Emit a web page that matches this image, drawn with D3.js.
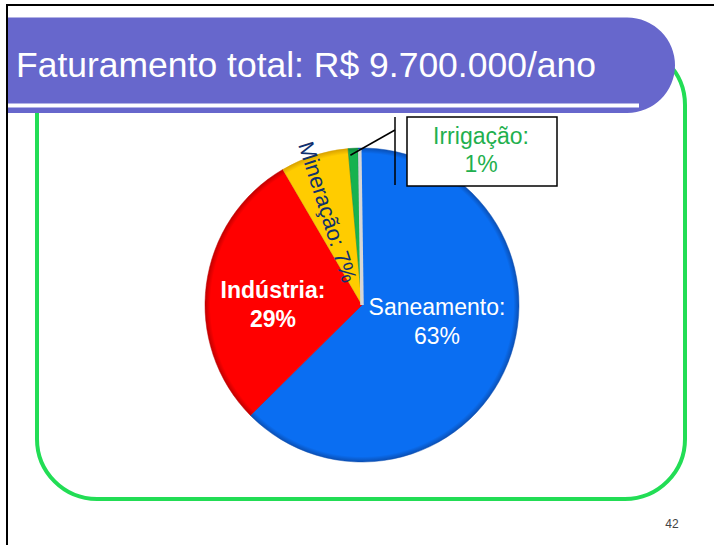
<!DOCTYPE html>
<html>
<head>
<meta charset="utf-8">
<script src="https://cdn.jsdelivr.net/npm/d3@7"></script>
<style>
html,body{margin:0;padding:0;background:#fff;}
svg{display:block;font-family:"Liberation Sans",Arial,sans-serif;}
</style>
</head>
<body>
<svg id="chart" width="714" height="545"></svg>
<script>
// ---- data ----
const title = "Faturamento total: R$ 9.700.000/ano";
const categories = ["Saneamento", "Indústria", "Mineração", "Irrigação"];
const values = [63, 29, 7, 1];
const valueLabels = ["63%", "29%", "7%", "1%"];
const pageNumber = "42";

// ---- styles ----
const fills = ["#0a6ef2", "#ff0000", "#ffcc00", "#17b24f"];
const rims  = ["#0a4fb4", "#c00000", "#d9a200", "#0d8a3a"];

const svg = d3.select("#chart");
const defs = svg.append("defs");

// slide frame
svg.append("line").attr("x1", 6).attr("x2", 714).attr("y1", 5).attr("y2", 5)
  .attr("stroke", "#000").attr("stroke-width", 2);
svg.append("line").attr("x1", 7).attr("x2", 7).attr("y1", 4).attr("y2", 545)
  .attr("stroke", "#000").attr("stroke-width", 2);

// green rounded frame
svg.append("rect").attr("x", 37).attr("y", 45).attr("width", 648).attr("height", 454)
  .attr("rx", 60).attr("ry", 60)
  .attr("fill", "none").attr("stroke", "#22dd55").attr("stroke-width", 4);

// title bar
const tb = {x: 8, y: 17.5, r: 47.75, right: 675};
const tp = d3.path();
tp.moveTo(tb.x, tb.y);
tp.lineTo(tb.right - tb.r, tb.y);
tp.arc(tb.right - tb.r, tb.y + tb.r, tb.r, -Math.PI / 2, Math.PI / 2);
tp.lineTo(tb.x, tb.y + 2 * tb.r);
tp.closePath();
svg.append("path").attr("d", tp.toString()).attr("fill", "#6767cc");
svg.append("rect").attr("x", 8).attr("y", 103.5).attr("width", 631).attr("height", 4).attr("fill", "#fff");
svg.append("text").attr("x", 16).attr("y", 77)
  .attr("font-size", 35).attr("fill", "#fff")
  .attr("textLength", 580).attr("lengthAdjust", "spacingAndGlyphs")
  .text(title);

// pie
const cx = 362, cy = 305, R = 157;
const start = -1.5 * Math.PI / 180;
const pie = d3.pie().sort(null).startAngle(start).endAngle(start + 2 * Math.PI);
const arcs = pie(values);
const arc = d3.arc().innerRadius(0).outerRadius(R);

const g = svg.append("g").attr("transform", `translate(${cx},${cy})`);

fills.forEach((c, i) => {
  const gr = defs.append("radialGradient").attr("id", "grad" + i)
    .attr("gradientUnits", "userSpaceOnUse").attr("cx", 0).attr("cy", 0).attr("r", R);
  gr.append("stop").attr("offset", 0).attr("stop-color", c);
  gr.append("stop").attr("offset", 0.965).attr("stop-color", c);
  gr.append("stop").attr("offset", 1).attr("stop-color", rims[i]);
});

g.selectAll("path.slice").data(arcs).enter().append("path")
  .attr("class", "slice")
  .attr("d", arc)
  .attr("fill", (d, i) => `url(#grad${i})`)
  .attr("stroke", (d, i) => rims[i]).attr("stroke-width", 0.8).attr("stroke-opacity", 0.6);

// light edge at the start of the first slice
const a0 = arcs[0].startAngle + 0.012;
g.append("line")
  .attr("x1", 0).attr("y1", 0)
  .attr("x2", R * Math.sin(a0) * 0.99).attr("y2", -R * Math.cos(a0) * 0.99)
  .attr("stroke", "#d6d6d6").attr("stroke-width", 3.5);

// labels
const lblArc = d3.arc().innerRadius(0).outerRadius(R);
// Saneamento
svg.append("text").attr("x", 437).attr("y", 315).attr("text-anchor", "middle")
  .attr("font-size", 23).attr("fill", "#fff")
  .selectAll("tspan").data([categories[0] + ":", valueLabels[0]]).enter().append("tspan")
  .attr("x", 437).attr("dy", (d, i) => i ? 29 : 0).text(d => d);
// Indústria
svg.append("text").attr("x", 273).attr("y", 298).attr("text-anchor", "middle")
  .attr("font-size", 23).attr("font-weight", "bold").attr("fill", "#fff")
  .selectAll("tspan").data([categories[1] + ":", valueLabels[1]]).enter().append("tspan")
  .attr("x", 273).attr("dy", (d, i) => i ? 29 : 0).text(d => d);
// Mineração (rotated along slice)
const mid = (arcs[2].startAngle + arcs[2].endAngle) / 2;
const lr = 99;
const mx = cx + lr * Math.sin(mid), my = cy - lr * Math.cos(mid);
const rot = 90 + mid * 180 / Math.PI - 360;
svg.append("text")
  .attr("transform", `translate(${mx},${my}) rotate(${rot})`)
  .attr("text-anchor", "middle").attr("dy", "0.55em")
  .attr("font-size", 22).attr("fill", "#10306e")
  .text(categories[2] + ": " + valueLabels[2]);

// Irrigação callout
const mid3 = (arcs[3].startAngle + arcs[3].endAngle) / 2;
const pr = 150;
svg.append("line")
  .attr("x1", cx + pr * Math.sin(mid3) - 3).attr("y1", cy - pr * Math.cos(mid3))
  .attr("x2", 395).attr("y2", 130)
  .attr("stroke", "#000").attr("stroke-width", 1.5);
svg.append("line").attr("x1", 395).attr("x2", 395).attr("y1", 117).attr("y2", 185)
  .attr("stroke", "#000").attr("stroke-width", 1.5);
svg.append("rect").attr("x", 407).attr("y", 117).attr("width", 150).attr("height", 69)
  .attr("fill", "#fff").attr("stroke", "#000").attr("stroke-width", 1.5);
svg.append("text").attr("text-anchor", "middle")
  .attr("font-size", 23).attr("fill", "#1fb04e")
  .selectAll("tspan").data([categories[3] + ":", valueLabels[3]]).enter().append("tspan")
  .attr("x", 481).attr("y", (d, i) => i ? 172 : 144).text(d => d);

// page number
svg.append("text").attr("x", 672).attr("y", 528).attr("text-anchor", "middle")
  .attr("font-size", 12).attr("fill", "#444").text(pageNumber);
</script>
</body>
</html>
